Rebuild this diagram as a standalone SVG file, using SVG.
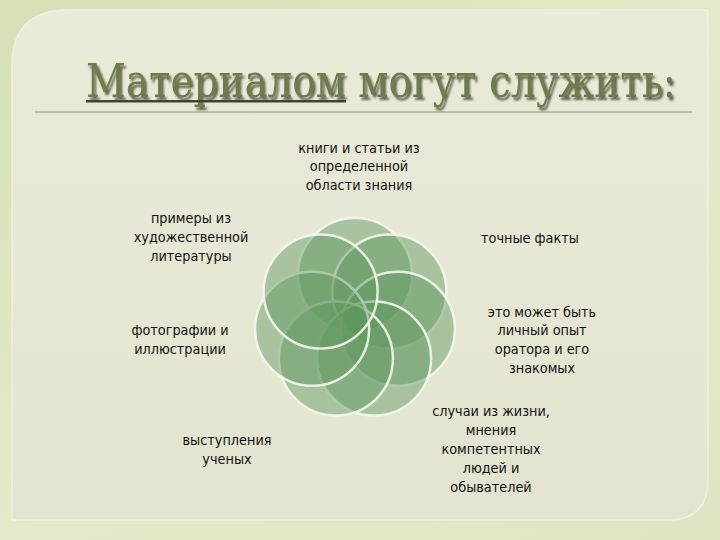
<svg xmlns="http://www.w3.org/2000/svg" width="720" height="540" viewBox="0 0 720 540">
<defs>
<linearGradient id="bg" x1="0" y1="0" x2="1" y2="1">
<stop offset="0" stop-color="#d6dfb6"/>
<stop offset="0.5" stop-color="#e4e9c9"/>
<stop offset="1" stop-color="#dfe5c2"/>
</linearGradient>
<linearGradient id="panel" x1="0" y1="0" x2="0" y2="1">
<stop offset="0" stop-color="#e9ebd9"/>
<stop offset="1" stop-color="#e2e4cf"/>
</linearGradient>
<filter id="sh" x="-5%" y="-20%" width="110%" height="150%">
<feGaussianBlur in="SourceAlpha" stdDeviation="0.8"/>
<feOffset dx="2" dy="2.5" result="o"/>
<feFlood flood-color="#2e3320" flood-opacity="0.75"/>
<feComposite in2="o" operator="in"/>
<feMerge><feMergeNode/><feMergeNode in="SourceGraphic"/></feMerge>
</filter>
</defs>
<style>
.c{fill:#5f9660;fill-opacity:0.45;stroke:#f4f6ee;stroke-width:2.5;stroke-opacity:0.9}
.t{font-family:"Liberation Sans Narrow","DejaVu Sans Condensed","Liberation Sans",sans-serif;font-size:14.3px;fill:#111;text-anchor:middle}
</style>
<rect width="720" height="540" fill="url(#bg)"/>
<path d="M68 10 H708 V480 Q708 520 668 520 H12 V66 Q12 10 68 10 Z" fill="url(#panel)" stroke="#eef0e2" stroke-width="1.5"/>
<g id="title">
<text x="86" y="97" textLength="590" lengthAdjust="spacingAndGlyphs" font-family="'DejaVu Serif Condensed','DejaVu Serif','Liberation Serif',serif" font-size="46" fill="#6f7a4c" filter="url(#sh)">Материалом могут служить:</text>
<rect x="86" y="100" width="260" height="2.5" fill="#3f4528"/>
</g>
<line x1="35" y1="112" x2="692" y2="112" stroke="#8a9670" stroke-width="1"/>
<g id="connectors"></g>
<g id="n0"><circle class="c" cx="355" cy="275" r="57"/>
<text class="t"><tspan x="359" y="153">книги и статьи из</tspan><tspan x="359" y="171">определенной</tspan><tspan x="359" y="190">области знания</tspan></text></g>
<g id="n1"><circle class="c" cx="389.4" cy="291.6" r="57"/>
<text class="t" x="530" y="243">точные факты</text></g>
<g id="n2"><circle class="c" cx="397.9" cy="328.8" r="57"/>
<text class="t"><tspan x="542" y="317">это может быть</tspan><tspan x="542" y="335">личный опыт</tspan><tspan x="542" y="354">оратора и его</tspan><tspan x="542" y="373">знакомых</tspan></text></g>
<g id="n3"><circle class="c" cx="374.1" cy="358.6" r="57"/>
<text class="t"><tspan x="491" y="416">случаи из жизни,</tspan><tspan x="491" y="435">мнения</tspan><tspan x="491" y="454">компетентных</tspan><tspan x="491" y="473">людей и</tspan><tspan x="491" y="492">обывателей</tspan></text></g>
<g id="n4"><circle class="c" cx="335.9" cy="358.6" r="57"/>
<text class="t"><tspan x="227" y="445">выступления</tspan><tspan x="227" y="464">ученых</tspan></text></g>
<g id="n5"><circle class="c" cx="312.1" cy="328.8" r="57"/>
<text class="t"><tspan x="180" y="335">фотографии и</tspan><tspan x="180" y="354">иллюстрации</tspan></text></g>
<g id="n6"><circle class="c" cx="320.6" cy="291.6" r="57"/>
<text class="t"><tspan x="191" y="223">примеры из</tspan><tspan x="191" y="242">художественной</tspan><tspan x="191" y="261">литературы</tspan></text></g>
</svg>
